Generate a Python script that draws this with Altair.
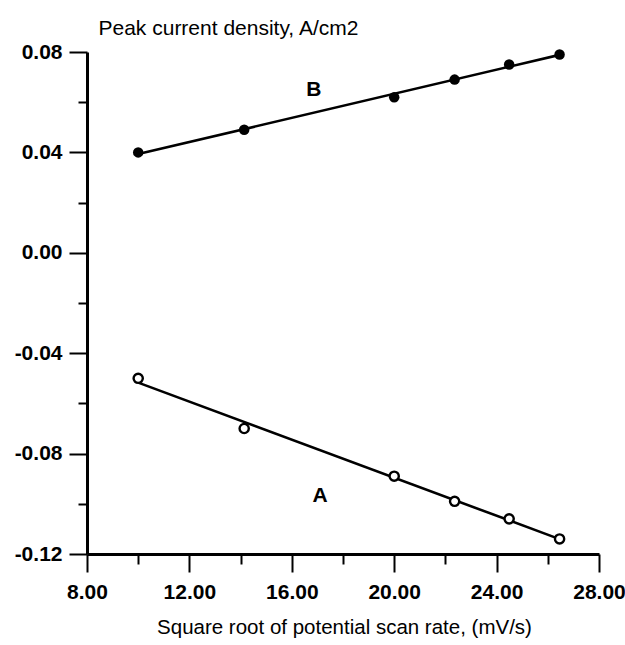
import altair as alt
import pandas as pd

# Square root of the potential scan rate, (mV/s)
sqrt_rate = [10.00, 14.14, 20.00, 22.36, 24.49, 26.46]

# Peak current densities, A/cm2
peak_b = [0.040, 0.049, 0.062, 0.069, 0.075, 0.079]
peak_a = [-0.050, -0.070, -0.089, -0.099, -0.106, -0.114]

# Curve labels
label_names = ["B", "A"]
label_x = [16.86, 17.10]
label_y = [0.0647, -0.0967]

# Axis tick positions (labels on every other tick)
x_ticks = [8, 10, 12, 14, 16, 18, 20, 22, 24, 26, 28]
y_ticks = [-0.12, -0.10, -0.08, -0.06, -0.04, -0.02, 0.0, 0.02, 0.04, 0.06, 0.08]

FONT = "Liberation Sans"

points = pd.DataFrame(
    {
        "x": sqrt_rate * 2,
        "y": peak_b + peak_a,
        "series": ["B"] * len(sqrt_rate) + ["A"] * len(sqrt_rate),
    }
)
labels = pd.DataFrame({"name": label_names, "x": label_x, "y": label_y})

x_minor = "datum.value % 4 != 0"
y_minor = "abs(round(datum.value * 100)) % 4 != 0"

x_axis = alt.Axis(
    values=x_ticks,
    labelExpr="datum.value % 4 == 0 ? format(datum.value, '.2f') : ''",
    grid=False,
    domainColor="black",
    domainWidth=3,
    tickColor="black",
    tickWidth=2,
    tickSize=18,
    tickDash={"condition": {"test": x_minor, "value": [10, 40]}, "value": [40, 0]},
    labelFont=FONT,
    labelFontSize=21,
    labelFontWeight="bold",
    labelColor="black",
    labelPadding=9,
    labelFlush=False,
    title="Square root of potential scan rate, (mV/s)",
    titleFont=FONT,
    titleFontSize=20.5,
    titleFontWeight="normal",
    titleColor="black",
    titleX=257,
    titleY=79,
    titleAlign="center",
    titleBaseline="alphabetic",
)

y_axis = alt.Axis(
    values=y_ticks,
    labelExpr=(
        "abs(round(datum.value * 100)) % 4 == 0 ? "
        "replace(format(datum.value, '.2f'), '\u2212', '-') : ''"
    ),
    grid=False,
    domainColor="black",
    domainWidth=3,
    tickColor="black",
    tickWidth=2,
    tickSize=18,
    tickDash={"condition": {"test": y_minor, "value": [9, 40]}, "value": [40, 0]},
    labelFont=FONT,
    labelFontSize=21,
    labelFontWeight="bold",
    labelColor="black",
    labelPadding=7,
    title="Peak current density, A/cm2",
    titleFont=FONT,
    titleFontSize=21,
    titleFontWeight="normal",
    titleColor="black",
    titleAngle=0,
    titleX=11,
    titleY=-18,
    titleAlign="left",
    titleBaseline="alphabetic",
)

x_enc = alt.X("x:Q", scale=alt.Scale(domain=[8, 28], nice=False, zero=False), axis=x_axis)
y_enc = alt.Y("y:Q", scale=alt.Scale(domain=[-0.12, 0.08], nice=False, zero=False), axis=y_axis)

base = alt.Chart(points)

fit_lines = (
    base.transform_regression("x", "y", groupby=["series"])
    .mark_line(color="black", strokeWidth=2.6)
    .encode(x=x_enc, y=y_enc, detail="series:N")
)

filled = (
    base.transform_filter(alt.datum.series == "B")
    .mark_point(shape="circle", filled=True, color="black", size=110, opacity=1)
    .encode(x=x_enc, y=y_enc)
)

hollow = (
    base.transform_filter(alt.datum.series == "A")
    .mark_point(shape="circle", filled=False, fill="white", fillOpacity=1,
                stroke="black", strokeWidth=2.4, size=85, opacity=1)
    .encode(x=x_enc, y=y_enc)
)

curve_labels = (
    alt.Chart(labels)
    .mark_text(font=FONT, fontSize=21, fontWeight="bold", color="black",
               align="center", baseline="middle")
    .encode(x=x_enc, y=y_enc, text="name:N")
)

chart = (
    alt.layer(fit_lines, filled, hollow, curve_labels)
    .properties(
        width=512,
        height=502,
        padding={"left": 87, "top": 52, "right": 26, "bottom": 91},
        autosize=alt.AutoSizeParams(type="none"),
        background="white",
    )
    .configure_view(stroke=None)
)

chart.save("out.html", embed_options={"renderer": "svg", "actions": False})
